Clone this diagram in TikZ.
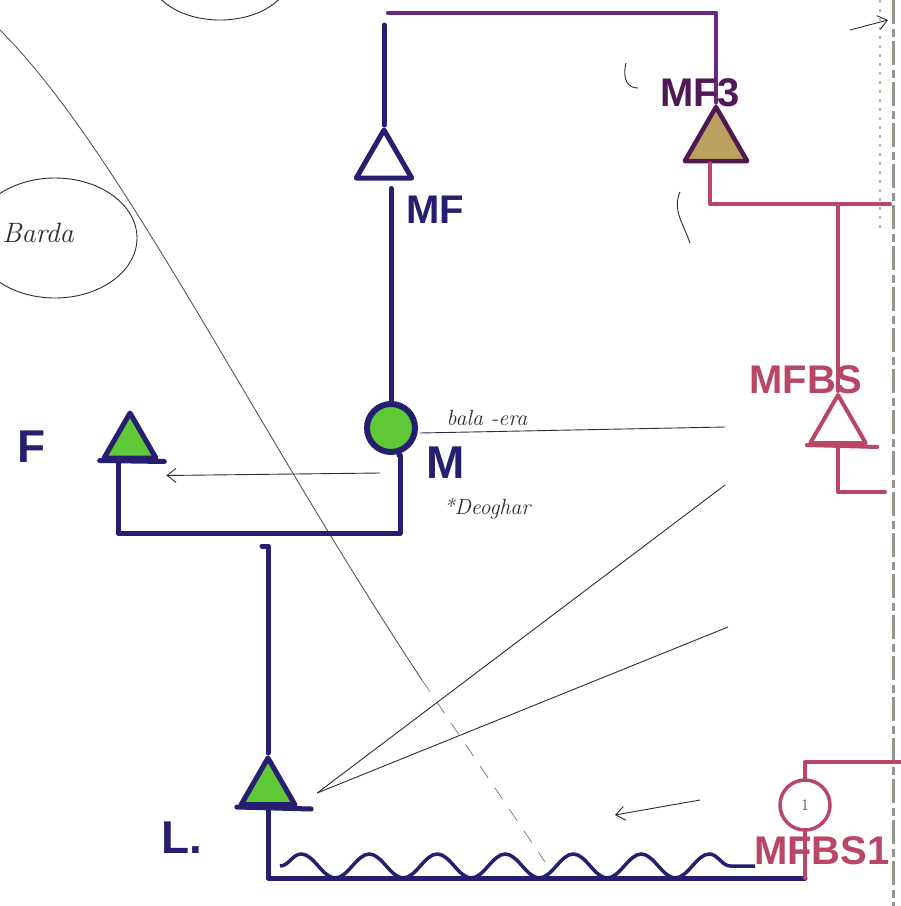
\documentclass[tikz,border=0pt]{standalone}
\usepackage{fontspec}
\setsansfont{Liberation Sans}
\usetikzlibrary{arrows.meta,positioning,calc,shapes.geometric,decorations.pathmorphing}

\definecolor{navy}{RGB}{38,30,110}
\definecolor{plum}{RGB}{105,40,125}
\definecolor{darkplum}{RGB}{80,25,85}
\definecolor{rose}{RGB}{185,70,100}
\definecolor{leaf}{RGB}{95,200,55}
\definecolor{tan}{RGB}{190,160,95}
\definecolor{pencil}{RGB}{45,45,55}
\definecolor{edgegray}{RGB}{150,150,140}

\begin{document}
\begin{tikzpicture}[
        x=1pt, y=-1pt,
        >={Straight Barb[length=9pt,width=14pt]},
        tri/.style={draw, regular polygon, regular polygon sides=3, inner sep=0pt, line join=round},
        bluetri/.style={tri, draw=navy, line width=5pt},
        rosetri/.style={tri, draw=rose, line width=4pt},
        navyline/.style={draw=navy, line width=5pt, line cap=round, line join=round},
        plumline/.style={draw=plum, line width=4.5pt, line cap=round, line join=round},
        roseline/.style={draw=rose, line width=4pt, line cap=round, line join=round},
        thinline/.style={draw=pencil, line width=0.9pt},
        thinarrow/.style={thinline, ->},
        lbl/.style={font=\fontsize{40}{40}\selectfont\sffamily\bfseries, inner sep=0pt, text=navy},
        biglbl/.style={lbl, font=\fontsize{46}{46}\selectfont\sffamily\bfseries},
        hand/.style={font=\fontsize{22}{22}\selectfont\itshape, inner sep=0pt, text=pencil}
    ]
    \useasboundingbox (0,0) rectangle (901,906);
    \clip (0,0) rectangle (901,906);
    \fill[white] (0,0) rectangle (901,906);

    % Pencil sketches in the background
    \draw[thinline] (220,-25) ellipse [x radius=70, y radius=45];
    \draw[thinline] (55,238) ellipse [x radius=82, y radius=60];
    \node[hand, font=\fontsize{28}{28}\selectfont\itshape] (barda) at (38,233) {Barda};
    \draw[draw=pencil!80, line width=0.9pt] (0,30) .. controls (120,150) and (250,420) .. (422,680);
    \draw[draw=pencil!60, line width=0.8pt, dash pattern=on 14pt off 12pt] (422,680) -- (545,862);
    \draw[thinline] (626,63) .. controls (622,80) and (628,88) .. (638,88);
    \draw[thinline] (680,192) .. controls (672,210) and (684,225) .. (690,243);

    % Paper edge
    \draw[edgegray, line width=3pt, dash pattern=on 24pt off 5pt on 8pt off 4pt] (893,0) -- (893,906);
    \draw[edgegray!70, line width=1.5pt, dash pattern=on 3pt off 6pt] (880,0) -- (880,230);

    % Navy side
    \node[bluetri, minimum size=64] (mf) at (384,162) {};
    \node[circle, draw=navy, line width=6pt, fill=leaf, minimum size=48, inner sep=0pt] (m) at (391,428) {};
    \node[bluetri, fill=leaf, minimum size=60] (f) at (130,443) {};
    \node[bluetri, fill=leaf, minimum size=62] (l) at (268,789) {};

    % Rose side
    \node[tri, draw=darkplum, line width=4.5pt, fill=tan, minimum size=72] (mf3) at (716,143) {};
    \node[rosetri, minimum size=64] (mfbs) at (838,427) {};
    \node[circle, draw=rose, line width=3.5pt, minimum size=50, inner sep=0pt,
          font=\fontsize{16}{16}\selectfont, text=darkplum] (mfbs1) at (805,805) {1};

    % Free ends
    \coordinate (top) at (388,13);
    \coordinate (jct) at (400,533);
    \coordinate (lt) at (262,546);
    \coordinate (bot) at (268,878);
    \coordinate (rj) at (890,204);
    \coordinate (mr) at (885,492);
    \coordinate (rr) at (901,762);

    % Navy connections
    \draw[navyline] ($(mf.corner 1 |- top)+(0,12)$) -- (mf.corner 1);
    \draw[plumline] (top) -| (mf3.corner 1);
    \draw[navyline] ($(m.north |- mf.south)+(0,8)$) -- (m.north);
    \draw[navyline] ($(m.south)+(8,0)$) -- (m.south -| jct) -- (jct) -| ($(f.south)+(-12,0)$);
    \draw[navyline] (f.corner 2) -- ($(f.corner 3)+(4,1)$);
    \draw[navyline] (lt) -- (l.corner 1 |- lt) -- (l.corner 1);
    \draw[navyline] (l.corner 2) -- ($(l.corner 3)+(12,2)$);
    \draw[navyline] (l.south) -- (l.south |- bot) -- (mfbs1.south |- bot);
    \draw[draw=navy, line width=3.5pt, decorate, decoration={snake, amplitude=12pt, segment length=68pt}]
        ($(l.south |- bot)+(12,-12)$) -- ($(mfbs1.south |- bot)+(-50,-12)$);

    % Rose connections
    \draw[roseline] (mfbs1.south |- bot) -- (mfbs1.south);
    \draw[roseline] ($(mf3.south)+(-6,0)$) |- (rj);
    \draw[roseline] (mfbs.corner 1) -- (mfbs.corner 1 |- rj);
    \draw[roseline] (mfbs.corner 2) -- ($(mfbs.corner 3)+(8,2)$);
    \draw[roseline] (mfbs.south) |- (mr);
    \draw[roseline] (mfbs1.north) |- (rr);

    % Pencil notes and arrows
    \coordinate (ue) at (725,427);
    \coordinate (fa) at (380,473);
    \coordinate (s1) at (725,485);
    \coordinate (s2) at (728,627);
    \coordinate (ba) at (700,800);
    \coordinate (ta) at (850,30);
    \draw[thinline] ($(m.east)+(2,5)$) -- (ue);
    \draw[thinarrow] (fa) -- ($(f.corner 3)+(6,15)$);
    \draw[thinline] (s1) -- ($(l.corner 3)+(18,-14)$);
    \draw[thinline] (s2) -- ($(l.corner 3)+(18,-14)$);
    \draw[thinarrow] (ba) -- ++(-85,15);
    \draw[thinarrow] (ta) -- ++(38,-10);

    % Labels
    \node[lbl] at (435,210) {MF};
    \node[biglbl] at (446,463) {M};
    \node[biglbl] at (32,447) {F};
    \node[biglbl] at (182,838) {L.};
    \node[lbl, text=darkplum] at (700,93) {MF3};
    \node[lbl, text=rose] at (806,380) {MFBS};
    \node[lbl, text=rose] at (822,851) {MFBS1};
    \node[hand] at (487,418) {bala -era};
    \node[hand] at (487,508) {*Deoghar};

\end{tikzpicture}
\end{document}
